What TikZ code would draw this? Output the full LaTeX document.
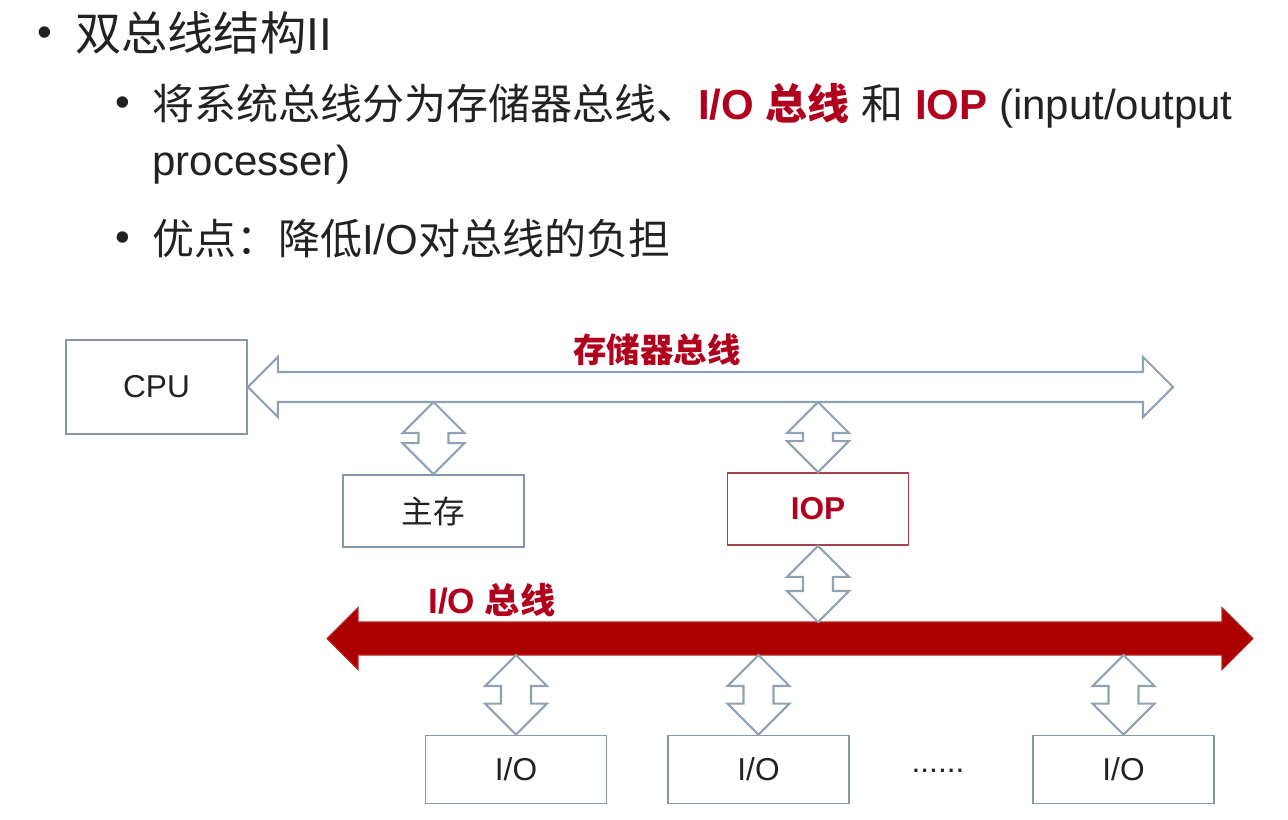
\documentclass[tikz,border=0pt]{standalone}
\usepackage{fontspec}
\setmainfont{Liberation Sans}
\newfontfamily\cjk{Noto Sans CJK SC}
\usetikzlibrary{calc}

\definecolor{TextGray}{HTML}{222222}
\definecolor{AccentRed}{HTML}{B0001E}
\definecolor{BusRed}{HTML}{AC0000}
\definecolor{LinkGray}{HTML}{8FA2B4}
\definecolor{BoxGray}{HTML}{8597A9}
\definecolor{IopEdge}{HTML}{A84050}

% one pixel of the slide
\newdimen\pix \pix=0.02cm

\newcommand\titlesize{\fontsize{26.3pt}{31pt}\selectfont}
\newcommand\subsize{\fontsize{23.9pt}{28pt}\selectfont}
\newcommand\boxsize{\fontsize{18pt}{22pt}\selectfont}
\newcommand\labelsize{\fontsize{19pt}{23pt}\selectfont}
\newcommand\keyterm[1]{{\color{AccentRed}\bfseries #1}}

% hollow up/down arrow: #1 upper tip, #2 lower tip
\newcommand\vlink[2]{%
  \draw[link] let \p1=(#1), \p2=(#2) in
    (\x1,\y1) -- (\x1-31\pix,\y1-31\pix) -- (\x1-15\pix,\y1-31\pix)
    -- (\x1-15\pix,\y2+31\pix) -- (\x1-31\pix,\y2+31\pix) -- (\x1,\y2)
    -- (\x1+31\pix,\y2+31\pix) -- (\x1+15\pix,\y2+31\pix)
    -- (\x1+15\pix,\y1-31\pix) -- (\x1+31\pix,\y1-31\pix) -- cycle;}

% left/right bus arrow: #2 left tip, #3 right tip, #4 half shaft, #5 half head
\newcommand\hbus[5][]{%
  \path[#1] let \p1=(#2), \p2=(#3) in
    (\x1,\y1) -- (\x1+#5,\y1+#5) -- (\x1+#5,\y1+#4)
    -- (\x2-#5,\y1+#4) -- (\x2-#5,\y1+#5) -- (\x2,\y1)
    -- (\x2-#5,\y1-#5) -- (\x2-#5,\y1-#4)
    -- (\x1+#5,\y1-#4) -- (\x1+#5,\y1-#5) -- cycle;}

\begin{document}
\begin{tikzpicture}[x=0.02cm,y=-0.02cm,text=TextGray,
  dot/.style={font=\fontsize{24pt}{26pt}\selectfont, inner sep=0pt, anchor=base},
  line/.style={anchor=base west, inner sep=0pt},
  box/.style={draw=BoxGray, line width=1pt, fill=white, minimum width=181\pix,
    inner sep=0pt, font=\boxsize},
  link/.style={draw=LinkGray, line width=1.2pt, fill=white, line join=miter},
  buslabel/.style={text=AccentRed, font=\labelsize\bfseries}]
  \useasboundingbox (0,0) rectangle (1288,819);

  % ===== Texto =====
  \node[dot] (b1) at (45,46) {•};
  \node[line, font=\titlesize] (title) at (75,50) {{\cjk 双总线结构}II};
  \node[dot] (b2) at (123,116) {•};
  \node[line, font=\subsize] (line1) at (152,119)
    {{\cjk 将系统总线分为存储器总线、}\keyterm{I/O {\cjk 总线}} {\cjk 和} \keyterm{IOP} (input/output};
  \node[line, font=\subsize] (line2) at (152,175) {processer)};
  \node[dot] (b3) at (123,251) {•};
  \node[line, font=\subsize] (line3) at (152,254) {{\cjk 优点：降低}I/O{\cjk 对总线的负担}};

  % ===== Bus de memoria =====
  \node[box, minimum height=94\pix] (cpu) at (156.5,387) {CPU};
  \coordinate (mbend) at (1173,387);
  \coordinate (mbbot) at (0,402);
  \hbus[link]{cpu.east}{mbend}{15\pix}{30\pix};
  \node[buslabel] (mblabel) at (657,350) {\cjk 存储器总线};

  \node[box, minimum height=72\pix] (ram) at (433.5,511) {\cjk 主存};
  \node[box, draw=IopEdge, minimum height=72\pix, text=AccentRed, font=\boxsize\bfseries]
    (iop) at (818,509) {IOP};
  \vlink{ram.north |- mbbot}{ram.north};
  \vlink{iop.north |- mbbot}{iop.north};

  % ===== Bus de E/S =====
  \coordinate (iobl) at (327,638.5);
  \coordinate (iobr) at (1253,638.5);
  \coordinate (iobtop) at (0,622);
  \coordinate (iobbot) at (0,655);
  \hbus[fill=BusRed, draw=BusRed!85!white, line width=0.6pt]{iobl}{iobr}{16.5\pix}{31\pix};
  \node[buslabel, font=\fontsize{20pt}{24pt}\selectfont\bfseries, anchor=west, inner sep=0pt]
    (iolabel) at (428,600) {I/O {\cjk 总线}};
  \vlink{iop.south}{iop.south |- iobtop};

  \foreach \name/\x in {io1/516, io2/758.5, io3/1123.5}{
    \node[box, minimum height=68\pix] (\name) at (\x,769.5) {I/O};
    \vlink{\name.north |- iobbot}{\name.north};
  }
  \node[font=\boxsize, inner sep=0pt] (more) at (938,771) {......};

\end{tikzpicture}
\end{document}
